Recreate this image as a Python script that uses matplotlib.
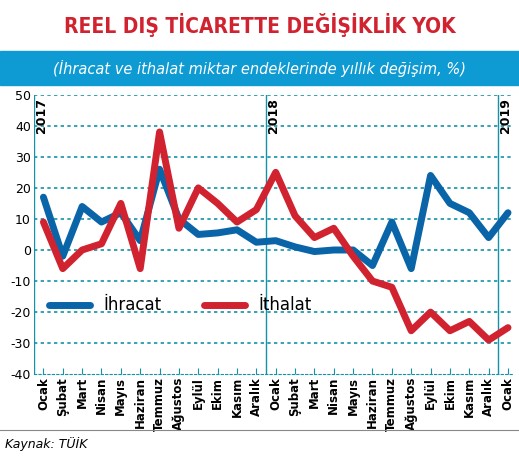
import matplotlib
matplotlib.use("Agg")
import matplotlib.pyplot as plt
from matplotlib.patches import Rectangle

plt.rcParams["axes.unicode_minus"] = False

months = ["Ocak", "Şubat", "Mart", "Nisan", "Mayıs", "Haziran", "Temmuz", "Ağustos",
          "Eylül", "Ekim", "Kasım", "Aralık"] * 2 + ["Ocak"]
ihracat = [17, -2, 14, 9, 12, 3, 26, 10, 5, 5.5, 6.5, 2.5,
           3, 1, -0.5, 0, 0, -5, 9, -6, 24, 15, 12, 4, 12]
ithalat = [9, -6, 0, 2, 15, -6, 38, 7, 20, 15, 9, 13,
           25, 11, 4, 7, -2, -10, -12, -26, -20, -26, -23, -29, -25]
years = ["2017", "2018", "2019"]
year_idx = [0, 12, 24]

blue = "#0a64a8"
red = "#d12230"
teal = "#1493a8"

fig = plt.figure(figsize=(5.19, 4.62), dpi=100)
fig.text(0.5, 0.945, "REEL DIŞ TİCARETTE DEĞİŞİKLİK YOK", ha="center", va="center",
         color=red, fontsize=15, fontweight="bold", fontstretch="condensed")
fig.patches.append(Rectangle((0, 0.815), 1, 0.075, transform=fig.transFigure,
                             color="#0e9ad2", zorder=0))
fig.text(0.5, 0.852, "(İhracat ve ithalat miktar endeklerinde yıllık değişim, %)",
         ha="center", va="center", color="white", fontsize=10.5, style="italic")

ax = fig.add_axes([0.065, 0.19, 0.925, 0.605])
x = list(range(len(months)))
ax.plot(x, ihracat, color=blue, lw=5, solid_capstyle="round", solid_joinstyle="round", label="İhracat", zorder=3)
ax.plot(x, ithalat, color=red, lw=5, solid_capstyle="round", solid_joinstyle="round", label="İthalat", zorder=4)
ax.set_ylim(-40, 50)
ax.set_xlim(-0.5, 24.3)
ax.set_yticks(range(-40, 51, 10))
for y in range(-30, 51, 10):
    ax.axhline(y, color=teal, ls=(0, (2, 2)), lw=1.2, zorder=1)
for xi, yr in zip(year_idx, years):
    ax.axvline(xi - 0.5, color=teal, lw=1, zorder=2)
    ax.text(xi - 0.45, 49, yr, rotation=90, va="top", ha="left", fontsize=9, fontweight="bold")
ax.set_xticks(x)
ax.set_xticklabels(months, rotation=90, fontsize=8.5, fontweight="bold")
ax.tick_params(axis="y", labelsize=9, length=0, pad=2)
ax.tick_params(axis="x", length=4, color=teal, direction="in", pad=2)
for s in ["top", "right", "left"]:
    ax.spines[s].set_visible(False)
ax.spines["bottom"].set_color(teal)
ax.spines["bottom"].set_linestyle((0, (2, 2)))
ax.legend(loc="lower left", bbox_to_anchor=(0.0, 0.16), ncol=2, frameon=False,
          fontsize=12, handlelength=2.5, columnspacing=2.5)

fig.add_artist(plt.Line2D([0, 1], [0.07, 0.07], color="#888888", lw=0.8))
fig.text(0.01, 0.04, "Kaynak: TÜİK", ha="left", va="center", fontsize=9, style="italic")
fig.savefig("out.png", dpi=100)
